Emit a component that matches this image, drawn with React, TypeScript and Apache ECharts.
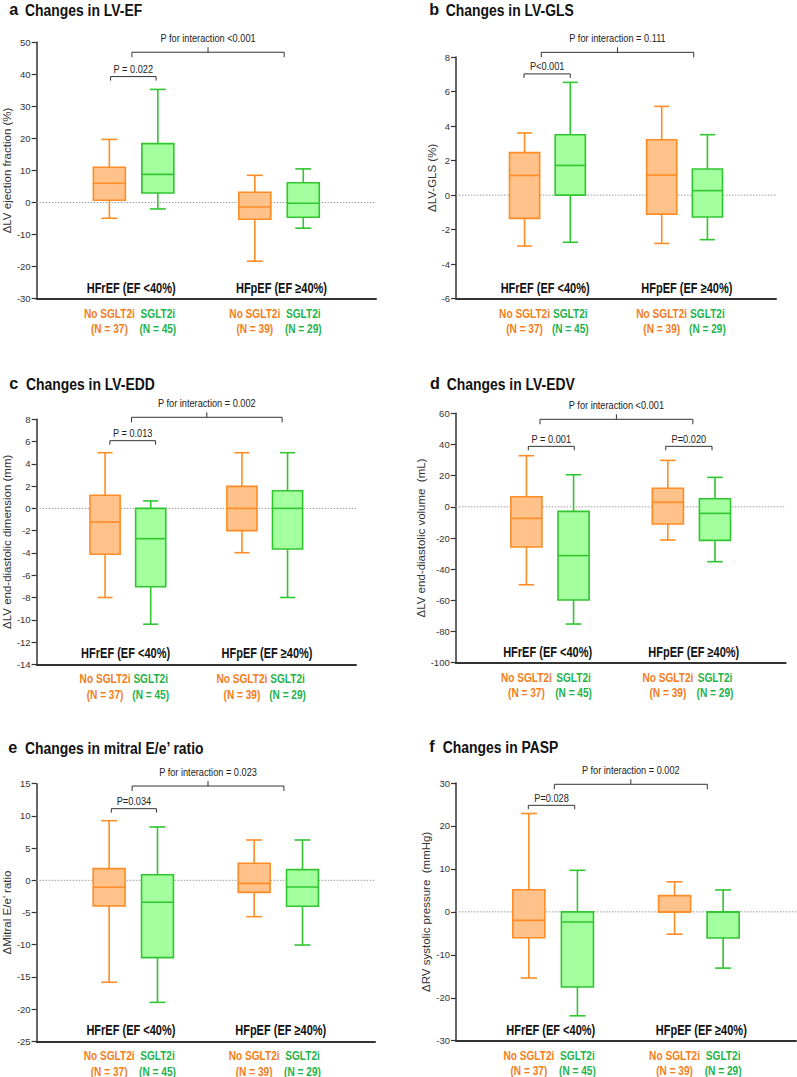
import React, { useEffect, useRef } from 'react';
import * as echarts from 'echarts';

const FONT = "'Liberation Sans', Arial, Helvetica, sans-serif";
const AXIS = '#333333';
const ORANGE_LINE = '#FF8C24';
const ORANGE_FILL = '#FFC28A';
const GREEN_LINE = '#2FC62F';
const GREEN_FILL = '#A4FF9E';
const ORANGE_TEXT = '#F47D20';
const GREEN_TEXT = '#1FB34B';

// Category slots on the x axis (empty slots keep the two groups apart)
const categories = ['', 'No SGLT2i', 'SGLT2i', '', 'No SGLT2i', 'SGLT2i', ''];
const sampleSizes = ['', '(N = 37)', '(N = 45)', '', '(N = 39)', '(N = 29)', ''];
const groupNames = ['HFrEF (EF <40%)', 'HFpEF (EF ≥40%)'];
const groupCenters = [1.45, 4.55];
const boxCategoryIndex = [1, 2, 4, 5];

// each row: [min, Q1, median, Q3, max]
const lvefBoxes = [
  [-4.9, 0.7, 6.0, 11.0, 19.7],
  [-2.0, 3.0, 8.8, 18.4, 35.3],
  [-18.3, -5.2, -1.4, 3.2, 8.5],
  [-8.0, -4.6, -0.2, 6.2, 10.5],
];
const lvglsBoxes = [
  [-2.95, -1.35, 1.14, 2.46, 3.6],
  [-2.73, 0, 1.72, 3.5, 6.53],
  [-2.8, -1.1, 1.16, 3.21, 5.14],
  [-2.58, -1.27, 0.26, 1.51, 3.5],
];
const lveddBoxes = [
  [-8, -4.12, -1.22, 1.18, 5],
  [-10.4, -7.03, -2.72, 0, 0.67],
  [-3.98, -2, 0, 1.98, 5],
  [-8, -3.65, 0, 1.59, 5],
];
const lvedvBoxes = [
  [-50, -25.8, -7.4, 6.5, 32.8],
  [-75.2, -59.8, -31.3, -2.9, 20.6],
  [-21.3, -11, 2.9, 11.9, 29.8],
  [-35.2, -21.5, -4.2, 5.2, 18.9],
];
const eeBoxes = [
  [-15.83, -3.99, -1.09, 1.81, 9.26],
  [-18.95, -12.01, -3.42, 0.87, 8.28],
  [-5.64, -1.87, -0.47, 2.64, 6.26],
  [-10.05, -4.04, -1.04, 1.65, 6.26],
];
const paspBoxes = [
  [-15.4, -6.02, -1.98, 5.16, 22.9],
  [-24.2, -17.5, -2.37, 0, 9.67],
  [-5.2, 0, 0, 3.77, 7.0],
  [-13.1, -6.1, 0, 0, 5.1],
];

// brackets: [from category, to category, y value, label, kind]
const lvefBrackets = [
  [1.465, 4.606, 46.9, 'P for interaction <0.001', 'inter'],
  [1.025, 1.964, 39.3, 'P = 0.022', 'pair'],
];
const lvglsBrackets = [
  [1.366, 4.7, 8.27, 'P for interaction = 0.111', 'inter'],
  [0.988, 2.0, 7.02, 'P<0.001', 'pair'],
];
const lveddBrackets = [
  [1.58, 4.88, 8.18, 'P for interaction = 0.002', 'inter'],
  [1.105, 2.105, 6.08, 'P = 0.013', 'pair'],
];
const lvedvBrackets = [
  [1.288, 4.53, 56.15, 'P for interaction <0.001', 'inter'],
  [1.04, 2.016, 38.8, 'P = 0.001', 'pair'],
  [3.955, 4.937, 38.8, 'P=0.020', 'pair'],
];
const eeBrackets = [
  [1.475, 4.616, 14.64, 'P for interaction = 0.023', 'inter'],
  [1.045, 1.979, 11.12, 'P=0.034', 'pair'],
];
const paspBrackets = [
  [1.524, 4.674, 29.7, 'P for interaction = 0.002', 'inter'],
  [0.989, 1.944, 24.8, 'P=0.028', 'pair'],
];

// y axis ranges [min, max, interval]
const lvefRange = [-30, 50, 10];
const lvglsRange = [-6, 8, 2];
const lveddRange = [-14, 8, 2];
const lvedvRange = [-100, 60, 20];
const eeRange = [-25, 15, 5];
const paspRange = [-30, 30, 10];

const panels = [
  { letter: 'a', title: 'Changes in LV-EF', yName: 'ΔLV ejection fraction (%)', range: lvefRange, boxes: lvefBoxes, brackets: lvefBrackets,
    grid: [35, 42.3, 341, 256.4], nameGap: 21, titlePos: [9.3, 25, 15.5] },
  { letter: 'b', title: 'Changes in LV-GLS', yName: 'ΔLV-GLS (%)', range: lvglsRange, boxes: lvglsBoxes, brackets: lvglsBrackets,
    grid: [456, 57, 320, 241.7], nameGap: 15, titlePos: [429.3, 445.7, 15.5] },
  { letter: 'c', title: 'Changes in LV-EDD', yName: 'ΔLV end-diastolic dimension (mm)', range: lveddRange, boxes: lveddBoxes, brackets: lveddBrackets,
    grid: [31.7, 419.3, 324.3, 245], nameGap: 20, titlePos: [9.3, 26, 389.3] },
  { letter: 'd', title: 'Changes in LV-EDV', yName: 'ΔLV end-diastolic volume  (mL)', range: lvedvRange, boxes: lvedvBoxes, brackets: lvedvBrackets,
    grid: [455.7, 413.3, 330, 249.4], nameGap: 26, titlePos: [430, 446.7, 389.3] },
  { letter: 'e', title: 'Changes in mitral E/e’ ratio', yName: 'ΔMitral E/e’ ratio', range: eeRange, boxes: eeBoxes, brackets: eeBrackets,
    grid: [33.3, 783.7, 341.7, 257.6], nameGap: 21, titlePos: [8.3, 25, 753.3] },
  { letter: 'f', title: 'Changes in PASP', yName: 'ΔRV systolic pressure  (mmHg)', range: paspRange, boxes: paspBoxes, brackets: paspBrackets,
    grid: [456, 783, 340, 257.7], nameGap: 23, titlePos: [429.3, 442.7, 752.3] },
];

function textEl(x: number, y: number, text: string, fs: number, weight: string, fill: string, sx: number, align = 'center') {
  return {
    type: 'text', x, y, scaleX: sx, silent: true,
    style: {
      text, fill, fontSize: fs, fontWeight: weight, fontFamily: FONT,
      align, verticalAlign: 'middle', textAlign: align, textVerticalAlign: 'middle',
    },
  };
}

function makeAnnotRender(p: any) {
  return (params: any, api: any) => {
    const min = p.range[0];
    const x0 = api.coord([0, 0])[0];
    const band = api.size([1, 0])[0];
    const X = (c: number) => x0 + c * band;
    const Y = (v: number) => api.coord([0, v])[1];
    const yBottom = Y(min);
    const yZero = Y(0);
    const children: any[] = [];
    children.push({
      type: 'line', silent: true,
      shape: { x1: X(-0.5), y1: yZero, x2: X(6.5), y2: yZero },
      style: { stroke: '#9a9a9a', lineWidth: 1, lineDash: [1.5, 1.5] },
    });
    p.brackets.forEach((b: any) => {
      const [c1, c2, v, label, kind] = b;
      const xa = X(c1), xb = X(c2), y = Y(v);
      const t = kind === 'inter' ? 5 : 4;
      children.push({
        type: 'polyline', silent: true,
        shape: { points: [[xa, y + t], [xa, y], [xb, y], [xb, y + t]] },
        style: { stroke: AXIS, lineWidth: 1, fill: null },
      });
      const mid = (xa + xb) / 2;
      if (kind === 'inter') {
        children.push({
          type: 'line', silent: true,
          shape: { x1: mid, y1: y, x2: mid, y2: y - 5 },
          style: { stroke: AXIS, lineWidth: 1 },
        });
      }
      children.push(textEl(mid, y - (kind === 'inter' ? 14 : 7.5), label, 11.5, 'normal', '#222', 0.8));
    });
    groupNames.forEach((g, i) => {
      children.push(textEl(X(groupCenters[i]), yBottom - 11, g, 14.5, 'bold', '#111', 0.76));
    });
    boxCategoryIndex.forEach((ci, k) => {
      const col = k % 2 === 0 ? ORANGE_TEXT : GREEN_TEXT;
      children.push(textEl(X(ci), yBottom + 14.5, categories[ci], 12.5, 'bold', col, 0.81));
      children.push(textEl(X(ci), yBottom + 30, sampleSizes[ci], 12.5, 'bold', col, 0.81));
    });
    return { type: 'group', children };
  };
}

function boxRender(params: any, api: any) {
  const cat = api.value(0);
  const vals = [api.value(1), api.value(2), api.value(3), api.value(4), api.value(5)];
  const xc = api.coord([cat, 0])[0];
  const band = api.size([1, 0])[0];
  const w = band * 0.66;
  const ys = vals.map((v: number) => api.coord([cat, v])[1]);
  const orange = params.dataIndex % 2 === 0;
  const stroke = orange ? ORANGE_LINE : GREEN_LINE;
  const fill = orange ? ORANGE_FILL : GREEN_FILL;
  const lw = 1.6;
  const cap = w * 0.25;
  return {
    type: 'group',
    children: [
      { type: 'line', shape: { x1: xc, y1: ys[3], x2: xc, y2: ys[4] }, style: { stroke, lineWidth: lw } },
      { type: 'line', shape: { x1: xc, y1: ys[1], x2: xc, y2: ys[0] }, style: { stroke, lineWidth: lw } },
      { type: 'line', shape: { x1: xc - cap, y1: ys[4], x2: xc + cap, y2: ys[4] }, style: { stroke, lineWidth: lw } },
      { type: 'line', shape: { x1: xc - cap, y1: ys[0], x2: xc + cap, y2: ys[0] }, style: { stroke, lineWidth: lw } },
      { type: 'rect', shape: { x: xc - w / 2, y: ys[3], width: w, height: ys[1] - ys[3] }, style: { fill, stroke, lineWidth: lw } },
      { type: 'line', shape: { x1: xc - w / 2, y1: ys[2], x2: xc + w / 2, y2: ys[2] }, style: { stroke, lineWidth: lw } },
    ],
  };
}

function buildOption() {
  const grid = panels.map((p) => ({ left: p.grid[0], top: p.grid[1], width: p.grid[2], height: p.grid[3] }));
  const xAxis = panels.map((p, i) => ({
    type: 'category', gridIndex: i, data: categories,
    axisLine: { onZero: false, lineStyle: { color: AXIS, width: 2 } },
    axisTick: { show: false }, axisLabel: { show: false }, splitLine: { show: false },
  }));
  const yAxis = panels.map((p, i) => ({
    type: 'value', gridIndex: i, min: p.range[0], max: p.range[1], interval: p.range[2],
    name: p.yName, nameLocation: 'middle', nameGap: p.nameGap,
    nameTextStyle: { fontSize: 11.5, color: '#333', fontFamily: FONT },
    axisLine: { show: true, lineStyle: { color: AXIS, width: 1.5 } },
    axisTick: { show: true, length: 5, lineStyle: { color: AXIS, width: 1.2 } },
    axisLabel: { fontSize: 9.5, color: '#333', margin: 6, fontFamily: FONT },
    splitLine: { show: false },
  }));
  const series: any[] = [];
  panels.forEach((p, i) => {
    series.push({
      type: 'custom', xAxisIndex: i, yAxisIndex: i, silent: true, z: 1,
      data: [[0, 0]], renderItem: makeAnnotRender(p),
    });
    series.push({
      type: 'custom', xAxisIndex: i, yAxisIndex: i, silent: true, z: 2,
      data: p.boxes.map((b, k) => [boxCategoryIndex[k], ...b]),
      encode: { x: 0, y: [1, 2, 3, 4, 5] },
      renderItem: boxRender,
    });
  });
  const graphic: any[] = [];
  panels.forEach((p) => {
    const [lx, tx, base] = p.titlePos;
    graphic.push(textEl(lx, base - 0.35 * 17, p.letter, 17, 'bold', '#111', 0.95, 'left'));
    graphic.push(textEl(tx, base - 0.35 * 16, p.title, 16, 'bold', '#111', 0.87, 'left'));
  });
  return {
    animation: false,
    backgroundColor: '#ffffff',
    textStyle: { fontFamily: FONT },
    grid, xAxis, yAxis, series, graphic,
  };
}

export default function App() {
  const ref = useRef<HTMLDivElement>(null);
  useEffect(() => {
    if (!ref.current) return;
    const chart = echarts.init(ref.current, undefined, { renderer: 'svg' });
    chart.setOption(buildOption() as any);
    return () => chart.dispose();
  }, []);
  return <div ref={ref} style={{ position: 'absolute', left: 0, top: 0, width: 797, height: 1077, background: '#fff' }} />;
}
